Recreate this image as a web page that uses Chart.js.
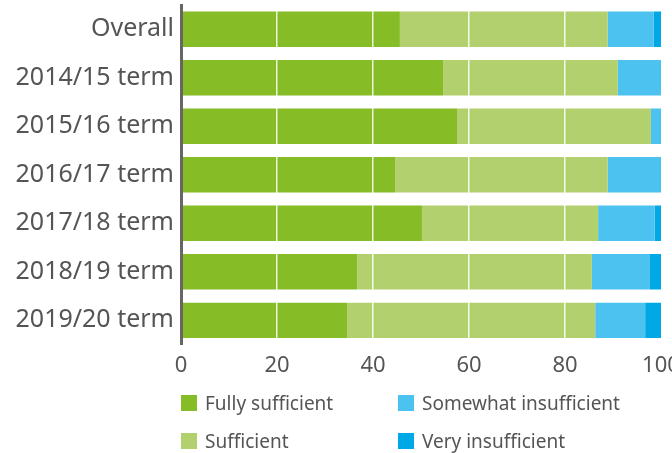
<!DOCTYPE html>
<html>
<head>
<meta charset="utf-8">
<script src="https://cdn.jsdelivr.net/npm/chart.js@4"></script>
<style>
    html, body { margin: 0; padding: 0; background: #fff; overflow: hidden; }
    #wrap { position: relative; width: 672px; height: 453px; overflow: hidden; }
    #chart { position: absolute; left: 0; top: 0; }
    .legend-item { position: absolute; display: flex; align-items: center; font-family: "Noto Sans", sans-serif; font-size: 19px; color: #555; white-space: nowrap; }
    .legend-box { width: 16px; height: 16px; margin-right: 8px; }
</style>
</head>
<body>
<div id="wrap">
    <canvas id="chart" width="700" height="392" style="width:700px;height:392px"></canvas>
    <div id="legend"></div>
</div>
<script>
const categories = ['Overall', '2014/15 term', '2015/16 term', '2016/17 term', '2017/18 term', '2018/19 term', '2019/20 term'];
const fullySufficient = [45.6, 54.6, 57.5, 44.6, 50.2, 36.7, 34.6];
const sufficient = [43.3, 36.4, 40.4, 44.3, 36.7, 48.9, 51.7];
const somewhatInsufficient = [9.6, 9.0, 2.1, 11.1, 11.8, 12.1, 10.4];
const veryInsufficient = [1.5, 0, 0, 0, 1.3, 2.3, 3.3];
const xTicks = [0, 20, 40, 60, 80, 100];

const seriesNames = ['Fully sufficient', 'Sufficient', 'Somewhat insufficient', 'Very insufficient'];
const seriesColors = ['#86bc25', '#b3d06f', '#4cc2f0', '#00a9e6'];
const seriesData = [fullySufficient, sufficient, somewhatInsufficient, veryInsufficient];

const textColor = '#555';

const chart = new Chart(document.getElementById('chart'), {
    type: 'bar',
    data: {
        labels: categories,
        datasets: seriesNames.map((name, i) => ({
            label: name,
            data: seriesData[i],
            backgroundColor: seriesColors[i],
            borderWidth: 0,
            categoryPercentage: 1,
            barPercentage: 0.73
        }))
    },
    options: {
        indexAxis: 'y',
        responsive: false,
        animation: false,
        layout: {
            padding: { top: 5, right: 39, bottom: 5, left: 0 }
        },
        plugins: {
            legend: { display: false },
            tooltip: { enabled: false }
        },
        scales: {
            x: {
                stacked: true,
                min: 0,
                max: 100,
                afterBuildTicks: (scale) => {
                    scale.ticks = xTicks.map(v => ({ value: v }));
                },
                grid: {
                    z: 1,
                    drawTicks: false,
                    lineWidth: 1.5,
                    // white lines over the bars, skipped at both ends
                    color: (ctx) => (ctx.tick && (ctx.tick.value === 0 || ctx.tick.value === 100))
                        ? 'rgba(0,0,0,0)' : 'rgba(255,255,255,0.85)'
                },
                border: { display: false },
                ticks: {
                    padding: 8,
                    color: textColor,
                    font: { family: 'Noto Sans', size: 22 }
                }
            },
            y: {
                stacked: true,
                afterFit: (scale) => {
                    scale.width = 181;
                    // bars fill the full height, no room kept for label overhang
                    scale.paddingTop = 0;
                    scale.paddingBottom = 0;
                },
                grid: { display: false, drawTicks: false },
                border: { display: true, color: '#666', width: 3, z: 2 },
                ticks: {
                    padding: 7,
                    color: textColor,
                    font: { family: 'Noto Sans', size: 25 }
                }
            }
        }
    }
});

// two-column legend under the plot
const legendPos = [
    { left: 181, top: 395 },
    { left: 181, top: 433 },
    { left: 398, top: 395 },
    { left: 398, top: 433 }
];
const legend = document.getElementById('legend');
chart.data.datasets.forEach((ds, i) => {
    const item = document.createElement('div');
    item.className = 'legend-item';
    item.style.left = legendPos[i].left + 'px';
    item.style.top = (legendPos[i].top - 5) + 'px';
    item.style.height = '26px';
    const box = document.createElement('span');
    box.className = 'legend-box';
    box.style.background = ds.backgroundColor;
    const txt = document.createElement('span');
    txt.textContent = ds.label;
    item.appendChild(box);
    item.appendChild(txt);
    legend.appendChild(item);
});
</script>
</body>
</html>
